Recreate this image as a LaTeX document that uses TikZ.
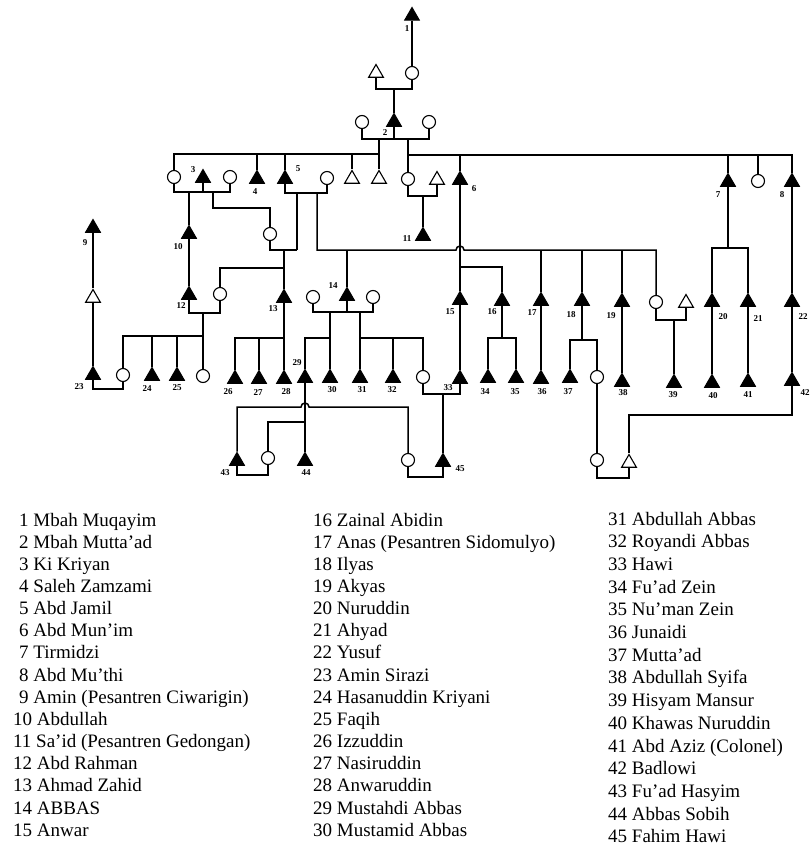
\documentclass[tikz,border=0pt]{standalone}
\usepackage{fontspec}
\setmainfont{Liberation Serif}
\usetikzlibrary{shapes.geometric}
\begin{document}
\begin{tikzpicture}[x=1pt,y=-1pt,
  ft/.style={regular polygon,regular polygon sides=3,draw,fill=black,minimum size=17pt,inner sep=0pt,line width=1pt},
  ot/.style={regular polygon,regular polygon sides=3,draw,fill=white,minimum size=17pt,inner sep=0pt,line width=1.1pt},
  ci/.style={circle,draw,fill=white,minimum size=13pt,inner sep=0pt,line width=1.1pt},
  lab/.style={font=\fontsize{9}{9}\selectfont\bfseries,inner sep=0pt},
  leg/.style={font=\fontsize{19}{19}\selectfont,inner sep=0pt,anchor=base west},
  ln/.style={line width=1.5pt}]
\fill[white] (0,0) rectangle (810,851);
\useasboundingbox (0,0) rectangle (810,851);
% ---------- people ----------
\node[ft] (p1) at (412,16) {};
\node[ot] (m0) at (376,73) {};
\node[ci] (w0) at (412,73) {};
\node[ft] (p2) at (394,122) {};
\node[ci] (w2a) at (362,122) {};
\node[ci] (w2b) at (429,122) {};
\node[ci] (d1) at (174,177) {};
\node[ft] (p3) at (203,178) {};
\node[ci] (d2) at (230,177) {};
\node[ft] (p4) at (257,179) {};
\node[ft] (p5) at (285,179) {};
\node[ci] (w5) at (327,178) {};
\node[ot] (s1) at (352,179) {};
\node[ot] (s2) at (379,179) {};
\node[ci] (d3) at (408,179) {};
\node[ot] (h3) at (437,180) {};
\node[ft] (p6) at (460,180) {};
\node[ft] (p7) at (728,182) {};
\node[ci] (d4) at (758,181) {};
\node[ft] (p8) at (792,182) {};
\node[ft] (p9) at (93,228) {};
\node[ft] (p10) at (189,234) {};
\node[ft] (p11) at (423,236) {};
\node[ci] (d5) at (270,234) {};
\node[ot] (o9) at (93,298) {};
\node[ft] (p12) at (189,295) {};
\node[ci] (w12) at (220,294) {};
\node[ft] (p13) at (284,298) {};
\node[ci] (w14a) at (313,297) {};
\node[ft] (p14) at (347,296) {};
\node[ci] (w14b) at (373,297) {};
\node[ft] (p15) at (460,300) {};
\node[ft] (p16) at (502,301) {};
\node[ft] (p17) at (541,301) {};
\node[ft] (p18) at (582,301) {};
\node[ft] (p19) at (622,302) {};
\node[ci] (w39) at (656,302) {};
\node[ot] (h39) at (686,303) {};
\node[ft] (p20) at (712,302) {};
\node[ft] (p21) at (748,302) {};
\node[ft] (p22) at (792,302) {};
\node[ft] (p23) at (93,375) {};
\node[ci] (w23) at (123,375) {};
\node[ft] (p24) at (152,376) {};
\node[ft] (p25) at (177,376) {};
\node[ci] (d6) at (203,376) {};
\node[ft] (p26) at (235,379) {};
\node[ft] (p27) at (259,379) {};
\node[ft] (p28) at (284,379) {};
\node[ft] (p29) at (305,378) {};
\node[ft] (p30) at (330,378) {};
\node[ft] (p31) at (360,378) {};
\node[ft] (p32) at (393,378) {};
\node[ci] (w33) at (423,377) {};
\node[ft] (p33) at (460,379) {};
\node[ft] (p34) at (488,378) {};
\node[ft] (p35) at (516,378) {};
\node[ft] (p36) at (541,379) {};
\node[ft] (p37) at (570,378) {};
\node[ci] (d7) at (597,377) {};
\node[ft] (p38) at (622,382) {};
\node[ft] (p39) at (674,383) {};
\node[ft] (p40) at (712,383) {};
\node[ft] (p41) at (748,382) {};
\node[ft] (p42) at (792,381) {};
\node[ft] (p43) at (237,461) {};
\node[ci] (w43) at (268,458) {};
\node[ft] (p44) at (305,461) {};
\node[ci] (w45) at (408,460) {};
\node[ft] (p45) at (443,462) {};
\node[ci] (d8) at (597,460) {};
\node[ot] (h42) at (629,463) {};
% ---------- junction points ----------
\coordinate (c0) at (394,89);
\coordinate (c1) at (379,139);
\coordinate (c12) at (394,139);
\coordinate (c2) at (408,139);
\coordinate (L1) at (379,154);
\coordinate (R0) at (408,155);
\coordinate (k3) at (203,192);
\coordinate (k3b) at (213,192);
\coordinate (k3c) at (213,208);
\coordinate (k5a) at (297,193);
\coordinate (k5b) at (317,193);
\coordinate (k5c) at (297,250);
\coordinate (k5d) at (317,250);
\coordinate (h6a) at (456,250);
\coordinate (B2e) at (656,250);
\coordinate (k13) at (284,250);
\coordinate (k12) at (284,268);
\coordinate (k11) at (423,196);
\coordinate (k16) at (460,267);
\coordinate (k16b) at (502,338);
\coordinate (k18) at (582,340);
\coordinate (k39) at (674,320);
\coordinate (k7) at (728,248);
\coordinate (k42) at (792,415);
\coordinate (k8) at (613,478);
\coordinate (k23) at (108,389);
\coordinate (k12b) at (203,313);
\coordinate (k12c) at (203,336);
\coordinate (k13b) at (284,338);
\coordinate (k14) at (347,312);
\coordinate (k14a) at (330,312);
\coordinate (k14b) at (330,338);
\coordinate (k14c) at (360,312);
\coordinate (k14d) at (360,338);
\coordinate (k29) at (305,422);
\coordinate (b43a) at (301,407);
\coordinate (k43c) at (252,475);
\coordinate (k33) at (443,394);
\coordinate (k45) at (425,477);
% ---------- connectors ----------
\begin{scope}[ln]
\draw (p1) -- (w0);
\draw (m0) |- (c0) -| (w0);
\draw (c0) -- (p2);
\draw (w2a) |- (c1) -- (c2) -| (w2b);
\draw (p2) -- (c12);
\draw (c1) -- (s2);
\draw (d1) |- (L1);
\draw (p4 |- L1) -- (p4);
\draw (p5 |- L1) -- (p5);
\draw (s1 |- L1) -- (s1);
\draw (c2) -- (d3);
\draw (R0) -| (p8);
\draw (p6 |- R0) -- (p6);
\draw (p7 |- R0) -- (p7);
\draw (d4 |- R0) -- (d4);
% Ki Kriyan and wives
\draw (d1) |- (k3) -| (d2);
\draw (p3) -- (k3);
\draw (p10 |- k3) -- (p10);
\draw (p10) -- (p12);
\draw (k3b) -- (k3c) -| (d5);
% Abd Jamil
\draw (p5) |- (k5a) -- (k5b) -| (w5);
\draw (k5a) -- (k5c);
\draw (d5) |- (k5c);
\draw (k13) -- (p13);
\draw (k12) -| (w12);
\draw (k5b) -- (k5d) -- (h6a) arc[start angle=180,end angle=0,radius=4pt] -- (B2e) -- (w39);
\draw (p14 |- k5d) -- (p14);
\draw (p17 |- k5d) -- (p17);
\draw (p17) -- (p36);
\draw (p18 |- k5d) -- (p18);
\draw (p19 |- k5d) -- (p19);
\draw (p19) -- (p38);
% Sa'id
\draw (d3) |- (k11) -| (h3);
\draw (k11) -- (p11);
% Abd Mun'im
\draw (p6) -- (p15);
\draw (k16) -| (p16);
\draw (p15) -- (p33);
\draw (p16) -- (k16b);
\draw (p34) |- (k16b) -| (p35);
\draw (p18) -- (k18);
\draw (p37) |- (k18) -| (d7);
\draw (d7) -- (d8);
\draw (w39) |- (k39) -| (h39);
\draw (k39) -- (p39);
% Tirmidzi, Abd Mu'thi
\draw (p7) -- (k7);
\draw (p20) |- (k7) -| (p21);
\draw (p20) -- (p40);
\draw (p21) -- (p41);
\draw (p8) -- (p22);
\draw (p22) -- (p42);
\draw (p42) -- (k42) -| (h42);
\draw (d8) |- (k8) -| (h42);
% Amin
\draw (p9) -- (o9);
\draw (o9) -- (p23);
\draw (p23) |- (k23) -| (w23);
% Abd Rahman
\draw (p12) |- (k12b) -| (w12);
\draw (k12b) -- (k12c);
\draw (w23) |- (k12c);
\draw (p24 |- k12c) -- (p24);
\draw (p25 |- k12c) -- (p25);
\draw (k12c) -- (d6);
% Ahmad Zahid
\draw (p13) -- (p28);
\draw (p26) |- (k13b);
\draw (p27 |- k13b) -- (p27);
% ABBAS
\draw (w14a) |- (k14) -| (w14b);
\draw (p14) -- (k14);
\draw (k14a) -- (p30);
\draw (p29) |- (k14b);
\draw (k14c) -- (p31);
\draw (k14d) -| (w33);
\draw (p32 |- k14d) -- (p32);
\draw (p29) -- (p44);
\draw (k29) -| (w43);
\draw (p43) |- (b43a) arc[start angle=180,end angle=0,radius=4pt] -| (w45);
\draw (p43) |- (k43c) -| (w43);
\draw (w33) |- (k33) -| (p33);
\draw (k33) -- (p45);
\draw (w45) |- (k45) -| (p45);
\end{scope}
% ---------- number labels ----------
\node[lab] (l1) at (407,29) {1};
\node[lab] (l2) at (385,133) {2};
\node[lab] (l3) at (193,170) {3};
\node[lab] (l4) at (255,192) {4};
\node[lab] (l5) at (298,169) {5};
\node[lab] (l6) at (474,189) {6};
\node[lab] (l7) at (718,195) {7};
\node[lab] (l8) at (782,195) {8};
\node[lab] (l9) at (85,243) {9};
\node[lab] (l10) at (178,247) {10};
\node[lab] (l11) at (407,239) {11};
\node[lab] (l12) at (181,306) {12};
\node[lab] (l13) at (273,309) {13};
\node[lab] (l14) at (333,286) {14};
\node[lab] (l15) at (450,312) {15};
\node[lab] (l16) at (492,312) {16};
\node[lab] (l17) at (532,313) {17};
\node[lab] (l18) at (571,315) {18};
\node[lab] (l19) at (611,316) {19};
\node[lab] (l20) at (723,317) {20};
\node[lab] (l21) at (758,319) {21};
\node[lab] (l22) at (803,317) {22};
\node[lab] (l23) at (79,387) {23};
\node[lab] (l24) at (147,389) {24};
\node[lab] (l25) at (177,388) {25};
\node[lab] (l26) at (228,392) {26};
\node[lab] (l27) at (258,393) {27};
\node[lab] (l28) at (286,392) {28};
\node[lab] (l29) at (297,363) {29};
\node[lab] (l30) at (332,390) {30};
\node[lab] (l31) at (362,390) {31};
\node[lab] (l32) at (392,390) {32};
\node[lab] (l33) at (448,388) {33};
\node[lab] (l34) at (485,392) {34};
\node[lab] (l35) at (515,392) {35};
\node[lab] (l36) at (542,392) {36};
\node[lab] (l37) at (568,392) {37};
\node[lab] (l38) at (623,393) {38};
\node[lab] (l39) at (673,395) {39};
\node[lab] (l40) at (713,396) {40};
\node[lab] (l41) at (748,395) {41};
\node[lab] (l42) at (805,393) {42};
\node[lab] (l43) at (225,473) {43};
\node[lab] (l44) at (306,473) {44};
\node[lab] (l45) at (460,469) {45};
% ---------- legend ----------
\node[leg] (t1) at (19,526) {1 Mbah Muqayim};
\node[leg] (t2) at (19,548.2) {2 Mbah Mutta'ad};
\node[leg] (t3) at (19,570.3) {3 Ki Kriyan};
\node[leg] (t4) at (19,592.5) {4 Saleh Zamzami};
\node[leg] (t5) at (19,614.6) {5 Abd Jamil};
\node[leg] (t6) at (19,636.8) {6 Abd Mun'im};
\node[leg] (t7) at (19,658.9) {7 Tirmidzi};
\node[leg] (t8) at (19,681.1) {8 Abd Mu'thi};
\node[leg] (t9) at (19,703.2) {9 Amin (Pesantren Ciwarigin)};
\node[leg] (t10) at (13,725.4) {10 Abdullah};
\node[leg] (t11) at (13,747.5) {11 Sa'id (Pesantren Gedongan)};
\node[leg] (t12) at (13,769.7) {12 Abd Rahman};
\node[leg] (t13) at (13,791.8) {13 Ahmad Zahid};
\node[leg] (t14) at (13,814.0) {14 ABBAS};
\node[leg] (t15) at (13,836.1) {15 Anwar};
\node[leg] (t16) at (313,526) {16 Zainal Abidin};
\node[leg] (t17) at (313,548.2) {17 Anas (Pesantren Sidomulyo)};
\node[leg] (t18) at (313,570.3) {18 Ilyas};
\node[leg] (t19) at (313,592.5) {19 Akyas};
\node[leg] (t20) at (313,614.6) {20 Nuruddin};
\node[leg] (t21) at (313,636.8) {21 Ahyad};
\node[leg] (t22) at (313,658.9) {22 Yusuf};
\node[leg] (t23) at (313,681.1) {23 Amin Sirazi};
\node[leg] (t24) at (313,703.2) {24 Hasanuddin Kriyani};
\node[leg] (t25) at (313,725.4) {25 Faqih};
\node[leg] (t26) at (313,747.5) {26 Izzuddin};
\node[leg] (t27) at (313,769.7) {27 Nasiruddin};
\node[leg] (t28) at (313,791.8) {28 Anwaruddin};
\node[leg] (t29) at (313,814.0) {29 Mustahdi Abbas};
\node[leg] (t30) at (313,836.1) {30 Mustamid Abbas};
\node[leg] (t31) at (608,525) {31 Abdullah Abbas};
\node[leg] (t32) at (608,547.7) {32 Royandi Abbas};
\node[leg] (t33) at (608,570.4) {33 Hawi};
\node[leg] (t34) at (608,593.1) {34 Fu'ad Zein};
\node[leg] (t35) at (608,615.8) {35 Nu'man Zein};
\node[leg] (t36) at (608,638.5) {36 Junaidi};
\node[leg] (t37) at (608,661.2) {37 Mutta'ad};
\node[leg] (t38) at (608,683.9) {38 Abdullah Syifa};
\node[leg] (t39) at (608,706.6) {39 Hisyam Mansur};
\node[leg] (t40) at (608,729.3) {40 Khawas Nuruddin};
\node[leg] (t41) at (608,752.0) {41 Abd Aziz (Colonel)};
\node[leg] (t42) at (608,774.7) {42 Badlowi};
\node[leg] (t43) at (608,797.4) {43 Fu'ad Hasyim};
\node[leg] (t44) at (608,820.1) {44 Abbas Sobih};
\node[leg] (t45) at (608,842.8) {45 Fahim Hawi};
\end{tikzpicture}
\end{document}
